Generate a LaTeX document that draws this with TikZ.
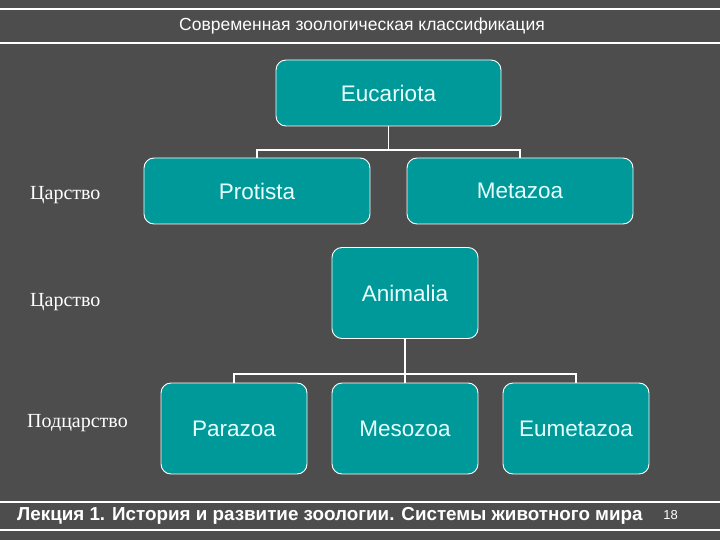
\documentclass[tikz,border=0pt]{standalone}
\usepackage{fontspec}
\setmainfont{Liberation Serif}
\setsansfont{Liberation Sans}
\definecolor{bg}{HTML}{4D4D4D}
\definecolor{teal1}{HTML}{009999}
\definecolor{boxtext}{HTML}{E8FFFF}
\begin{document}
\begin{tikzpicture}[x=1pt,y=-1pt,
  taxon/.style={draw=white, line width=0.9pt, fill=teal1, rounded corners=10pt,
    text=boxtext, font=\sffamily\fontsize{22.5}{26}\selectfont, inner sep=0pt},
  rank/.style={text=white, font=\rmfamily\fontsize{20}{24}\selectfont, anchor=west, inner sep=0pt},
  link/.style={draw=white, line width=1.8pt},
  rule/.style={draw=white, line width=1.6pt}]
\fill[bg] (0,0) rectangle (720,540);
\useasboundingbox (0,0) rectangle (720,540);
% header and footer rules
\draw[rule] (0,9) -- (720,9);
\draw[rule] (0,43) -- (720,43);
\draw[rule] (0,502) -- (720,502);
\draw[rule] (0,530) -- (720,530);
\node[text=white, font=\sffamily\fontsize{17.5}{20}\selectfont, inner sep=0pt] (title) at (362,26) {Современная зоологическая классификация};
\node[text=white, font=\sffamily\bfseries\fontsize{18.8}{22}\selectfont, inner sep=0pt, anchor=west] (foot) at (17,516) {Лекция 1. История и развитие зоологии. Системы животного мира};
\node[text=white, font=\sffamily\fontsize{13}{15}\selectfont, inner sep=0pt] (page) at (670.5,515) {18};
% boxes
\node[taxon, minimum width=225pt, minimum height=66pt] (euc) at (388.5,93) {Eucariota};
\node[taxon, minimum width=226pt, minimum height=66pt] (pro) at (257,191) {Protista};
\node[taxon, minimum width=226pt, minimum height=66pt] (met) at (520,191) {Metazoa};
\node[taxon, minimum width=146pt, minimum height=91pt] (ani) at (405,293) {Animalia};
\node[taxon, minimum width=146pt, minimum height=91pt] (par) at (234,428.5) {Parazoa};
\node[taxon, minimum width=146pt, minimum height=91pt] (mes) at (405,428.5) {Mesozoa};
\node[taxon, minimum width=146pt, minimum height=91pt] (eum) at (576,428.5) {Eumetazoa};
% connectors
\coordinate (j1) at (388.5,150);
\draw[link] (euc.south) -- (j1);
\draw[link] (j1) -| (pro.north);
\draw[link] (j1) -| (met.north);
\coordinate (j2) at (405,374);
\draw[link] (ani.south) -- (j2);
\draw[link] (j2) -| (par.north);
\draw[link] (j2) -| (eum.north);
\draw[link] (j2) -- (mes.north);
% rank labels
\node[rank] (r1) at (30,195) {Царство};
\node[rank] (r2) at (30,302) {Царство};
\node[rank] (r3) at (27,423) {Подцарство};
\end{tikzpicture}
\end{document}
